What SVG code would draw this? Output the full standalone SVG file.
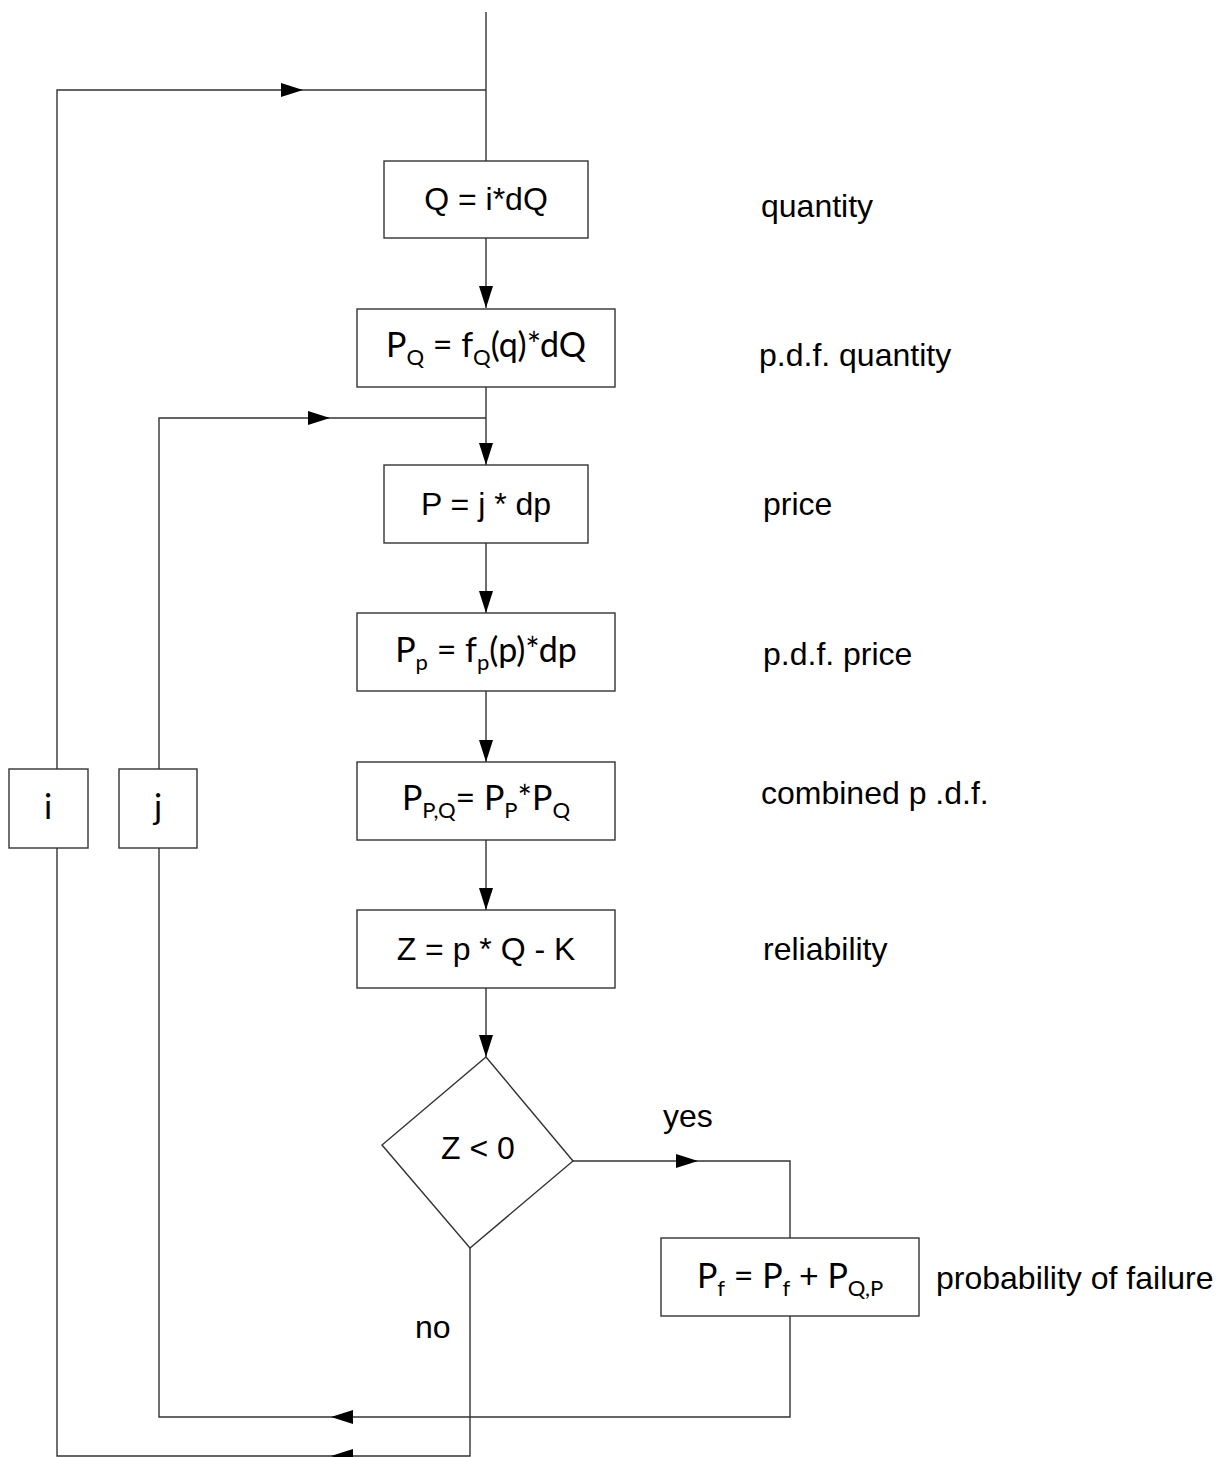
<svg xmlns="http://www.w3.org/2000/svg" width="1224" height="1457" viewBox="0 0 1224 1457">
  <style>
    .ln { fill: none; stroke: #333; stroke-width: 1.4; }
    .box { fill: #fff; stroke: #333; stroke-width: 1.4; }
    .t { font-family: "Liberation Sans", Arial, sans-serif; font-size: 32px; fill: #000; }
    .m { font-family: Lato, "Open Sans", sans-serif; font-size: 34px; fill: #000; }
    .s { font-size: 22px; }
    .c { text-anchor: middle; }
  </style>
  <defs>
    <marker id="arr" markerUnits="userSpaceOnUse" markerWidth="22" markerHeight="14" refX="22" refY="7" orient="auto">
      <path d="M0,0 L22,7 L0,14 z" fill="#000"/>
    </marker>
  </defs>

  <rect width="1224" height="1457" fill="#fff"/>

  <!-- connectors -->
  <g id="connectors">
    <!-- entry and outer loop (i) -->
    <path class="ln" d="M486,12 V161"/>
    <path class="ln" d="M57,769 V90 H303" marker-end="url(#arr)"/>
    <path class="ln" d="M303,90 H486"/>
    <!-- main column -->
    <path class="ln" d="M486,238 V308" marker-end="url(#arr)"/>
    <path class="ln" d="M486,387 V465" marker-end="url(#arr)"/>
    <path class="ln" d="M486,543 V613" marker-end="url(#arr)"/>
    <path class="ln" d="M486,691 V762" marker-end="url(#arr)"/>
    <path class="ln" d="M486,840 V910" marker-end="url(#arr)"/>
    <path class="ln" d="M486,988 V1057" marker-end="url(#arr)"/>
    <!-- inner loop (j) -->
    <path class="ln" d="M159,769 V418 H330" marker-end="url(#arr)"/>
    <path class="ln" d="M330,418 H486"/>
    <!-- yes branch -->
    <path class="ln" d="M573,1161 H698" marker-end="url(#arr)"/>
    <path class="ln" d="M698,1161 H790 V1238"/>
    <path class="ln" d="M790,1316 V1417 H331" marker-end="url(#arr)"/>
    <path class="ln" d="M331,1417 H159 V848"/>
    <!-- no branch -->
    <path class="ln" d="M470,1248 V1456 H331" marker-end="url(#arr)"/>
    <path class="ln" d="M331,1456 H57 V848"/>
  </g>

  <!-- nodes -->
  <g id="n-quantity">
    <rect class="box" x="384" y="161" width="204" height="77"/>
    <text class="t c" x="486" y="210">Q = i*dQ</text>
  </g>
  <g id="n-pdf-quantity">
    <rect class="box" x="357" y="309" width="258" height="78"/>
    <text class="m c" x="486" y="357">P<tspan class="s" dy="8">Q</tspan><tspan dy="-8"> = f</tspan><tspan class="s" dy="8">Q</tspan><tspan dy="-8">(q)*dQ</tspan></text>
  </g>
  <g id="n-price">
    <rect class="box" x="384" y="465" width="204" height="78"/>
    <text class="t c" x="486" y="515">P = j * dp</text>
  </g>
  <g id="n-pdf-price">
    <rect class="box" x="357" y="613" width="258" height="78"/>
    <text class="m c" x="486" y="662">P<tspan class="s" dy="8">p</tspan><tspan dy="-8"> = f</tspan><tspan class="s" dy="8">p</tspan><tspan dy="-8">(p)*dp</tspan></text>
  </g>
  <g id="n-combined">
    <rect class="box" x="357" y="762" width="258" height="78"/>
    <text class="m c" x="486" y="810">P<tspan class="s" dy="8">P,Q</tspan><tspan dy="-8">= P</tspan><tspan class="s" dy="8">P</tspan><tspan dy="-8">*P</tspan><tspan class="s" dy="8">Q</tspan></text>
  </g>
  <g id="n-reliability">
    <rect class="box" x="357" y="910" width="258" height="78"/>
    <text class="t c" x="486" y="960">Z = p * Q - K</text>
  </g>
  <g id="n-decision">
    <polygon class="box" points="486,1057 573,1161 470,1248 382,1145"/>
    <text class="t c" x="478" y="1159">Z &lt; 0</text>
  </g>
  <g id="n-failure">
    <rect class="box" x="661" y="1238" width="258" height="78"/>
    <text class="m c" x="790" y="1288">P<tspan class="s" dy="8">f</tspan><tspan dy="-8"> = P</tspan><tspan class="s" dy="8">f</tspan><tspan dy="-8"> + P</tspan><tspan class="s" dy="8">Q,P</tspan></text>
  </g>
  <g id="n-loop-i">
    <rect class="box" x="9" y="769" width="79" height="79"/>
    <text class="m c" x="48" y="819">i</text>
  </g>
  <g id="n-loop-j">
    <rect class="box" x="119" y="769" width="78" height="79"/>
    <text class="m c" x="158" y="819">j</text>
  </g>

  <!-- side notes and branch labels -->
  <g id="labels">
    <text class="t" x="761" y="217">quantity</text>
    <text class="t" x="759" y="366">p.d.f. quantity</text>
    <text class="t" x="763" y="515">price</text>
    <text class="t" x="763" y="665">p.d.f. price</text>
    <text class="t" x="761" y="804">combined p .d.f.</text>
    <text class="t" x="763" y="960">reliability</text>
    <text class="t" x="663" y="1127">yes</text>
    <text class="t" x="415" y="1338">no</text>
    <text class="t" x="936" y="1289">probability of failure</text>
  </g>
</svg>
